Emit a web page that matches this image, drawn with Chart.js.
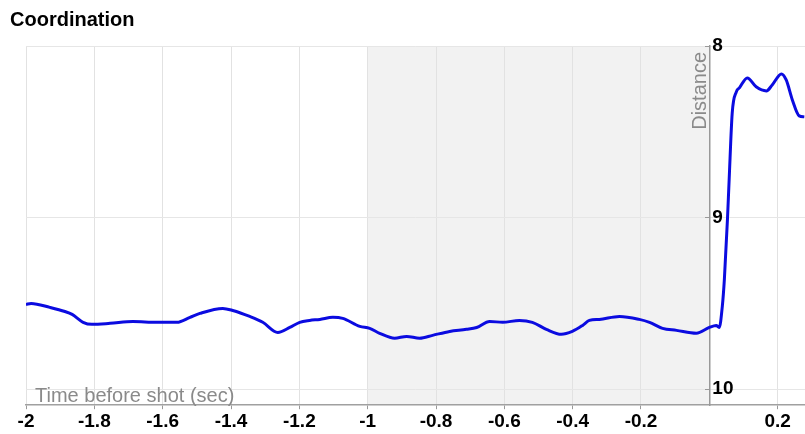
<!DOCTYPE html>
<html><head><meta charset="utf-8">
<script src="https://cdn.jsdelivr.net/npm/chart.js@4/dist/chart.umd.min.js"></script>
<style>html,body{margin:0;padding:0;background:#fff}#wrap{width:805px;height:434px;position:relative}</style>
</head><body><div id="wrap"><canvas id="c"></canvas></div>
<script>
const chartTitle = 'Coordination';
const xTitle = 'Time before shot (sec)';
const yTitle = 'Distance';
const xTickValues = [-2, -1.8, -1.6, -1.4, -1.2, -1, -0.8, -0.6, -0.4, -0.2, 0.2];
const yTickValues = [8, 9, 10];
const shadedRange = [-1, 0];
const times = [-2.0,-1.985,-1.93,-1.886,-1.865,-1.833,-1.807,-1.754,-1.687,-1.617,-1.558,-1.52,-1.491,-1.424,-1.395,-1.345,-1.307,-1.263,-1.228,-1.199,-1.17,-1.14,-1.102,-1.073,-1.023,-0.994,-0.965,-0.921,-0.886,-0.848,-0.81,-0.76,-0.711,-0.681,-0.643,-0.605,-0.556,-0.518,-0.477,-0.433,-0.401,-0.371,-0.351,-0.322,-0.263,-0.205,-0.175,-0.137,-0.096,-0.038,0.0,0.02,0.029,0.038,0.044,0.053,0.058,0.067,0.079,0.088,0.111,0.137,0.167,0.184,0.211,0.225,0.243,0.263,0.278];
const distance = [9.506,9.500,9.523,9.547,9.564,9.610,9.622,9.616,9.605,9.610,9.610,9.581,9.558,9.529,9.541,9.576,9.610,9.669,9.640,9.610,9.599,9.593,9.581,9.587,9.634,9.645,9.674,9.703,9.692,9.703,9.686,9.663,9.651,9.640,9.605,9.610,9.599,9.610,9.651,9.680,9.663,9.628,9.599,9.593,9.576,9.593,9.610,9.645,9.657,9.674,9.640,9.628,9.640,9.517,9.360,9.012,8.779,8.390,8.267,8.244,8.186,8.238,8.262,8.227,8.163,8.198,8.314,8.407,8.413];

const FONT = "'Liberation Sans', Arial, Helvetica, sans-serif";
Chart.defaults.font.family = FONT;

// Linear scale placed at x = 0 whose tick labels sit on the right side of the axis line
class MidLinearScale extends Chart.LinearScale {
  _computeLabelItems(chartArea) {
    const items = super._computeLabelItems(chartArea);
    const key = Object.keys(this.options.position)[0];
    const px = this.chart.scales[key].getPixelForValue(this.options.position[key]);
    items.forEach(it => {
      it.options.translation = [px + 3, it.options.translation[1]];
      it.options.textAlign = 'left';
    });
    return items;
  }
}
MidLinearScale.id = 'midLinear';
MidLinearScale.defaults = Chart.LinearScale.defaults;
Chart.register(MidLinearScale);

const shadePlugin = {
  id: 'shade',
  beforeDraw(chart) {
    const {ctx, chartArea: a, scales: {x}} = chart;
    const x0 = x.getPixelForValue(shadedRange[0]);
    const x1 = x.getPixelForValue(shadedRange[1]);
    ctx.save();
    ctx.fillStyle = '#f2f2f2';
    ctx.fillRect(x0, a.top, x1 - x0, a.bottom - a.top);
    ctx.restore();
  }
};
const titlesPlugin = {
  id: 'axisTitles',
  afterDraw(chart) {
    const {ctx, chartArea: a, scales: {x}} = chart;
    ctx.save();
    ctx.font = '20px ' + FONT;
    ctx.fillStyle = '#8a8a8a';
    ctx.textAlign = 'left';
    ctx.textBaseline = 'alphabetic';
    ctx.fillText(xTitle, a.left + 9, a.bottom - 3);
    const ax = x.getPixelForValue(0);
    ctx.translate(ax - 3, a.top + 6);
    ctx.rotate(-Math.PI / 2);
    ctx.textAlign = 'right';
    ctx.textBaseline = 'alphabetic';
    ctx.fillText(yTitle, 0, 0);
    ctx.restore();
  }
};

new Chart(document.getElementById('c'), {
  type: 'line',
  data: {
    datasets: [{
      data: times.map((t, i) => ({x: t, y: distance[i]})),
      borderColor: '#0b0be0',
      borderWidth: 3,
      pointRadius: 0,
      cubicInterpolationMode: 'monotone',
      fill: false
    }]
  },
  options: {
    responsive: true,
    maintainAspectRatio: false,
    animation: false,
    devicePixelRatio: 1,
    layout: {padding: {left: 10, right: 0, top: 0, bottom: 0}},
    plugins: {
      legend: {display: false},
      tooltip: {enabled: false},
      title: {
        display: true, text: chartTitle, align: 'start', color: '#000',
        font: {size: 20, weight: 'bold'}, padding: {top: 8, bottom: 14}
      }
    },
    scales: {
      x: {
        type: 'linear', min: -2, max: 0.28,
        afterBuildTicks: s => { s.ticks = xTickValues.map(v => ({value: v})); },
        ticks: {color: '#000', font: {size: 19, weight: 'bold'}, padding: 1, maxRotation: 0, autoSkip: false,
          callback: v => String(v)},
        grid: {color: '#e2e2e2', tickColor: '#999', tickLength: 4},
        border: {color: '#a0a0a0', width: 1.5}
      },
      y: {
        type: 'midLinear', position: {x: 0}, reverse: true, min: 8, max: 10.093,
        afterBuildTicks: s => { s.ticks = yTickValues.map(v => ({value: v})); },
        ticks: {color: '#000', font: {size: 19, weight: 'bold'}, padding: 2},
        grid: {color: '#e6e6e6', tickColor: '#999', tickLength: 4},
        border: {color: '#999', width: 1.5}
      },
      yPad: {
        type: 'linear', position: 'left', display: true,
        ticks: {display: false}, grid: {display: false}, border: {display: false},
        afterFit: s => { s.width = 16; }
      }
    }
  },
  plugins: [shadePlugin, titlesPlugin]
});
</script>
</body></html>
